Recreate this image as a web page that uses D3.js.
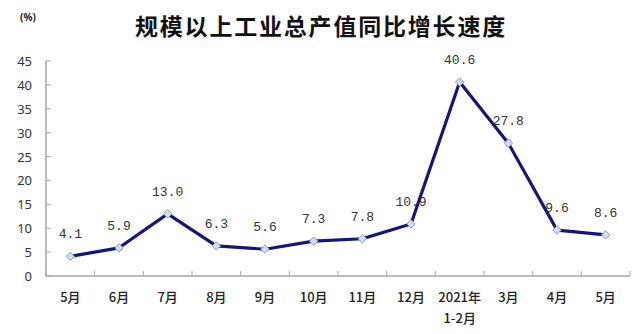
<!DOCTYPE html>
<html lang="zh">
<head>
<meta charset="UTF-8">
<title>规模以上工业总产值同比增长速度</title>
<script src="https://d3js.org/d3.v7.min.js"></script>
<style>
  body { margin: 0; background: #fff; }
  .tickLabel { font-family: "Noto Sans", "Liberation Sans", sans-serif; font-size: 13px; fill: #333; }
  .catLabel { font-family: "Noto Sans CJK SC", sans-serif; font-size: 13px; fill: #222; font-weight: 500; }
  .valLabel { font-family: "Liberation Mono", monospace; font-size: 13px; fill: #333; }
</style>
</head>
<body>
<svg id="chart" width="640" height="334"></svg>
<script>
  // data
  const months = ["5月", "6月", "7月", "8月", "9月", "10月", "11月", "12月", "2021年|1-2月", "3月", "4月", "5月"];
  const growth = [4.1, 5.9, 13.0, 6.3, 5.6, 7.3, 7.8, 10.9, 40.6, 27.8, 9.6, 8.6];
  const yTicks = [0, 5, 10, 15, 20, 25, 30, 35, 40, 45];

  const svg = d3.select("#chart");
  const margin = { top: 61, left: 46, right: 10, bottom: 58 };
  const plotW = 630 - margin.left;
  const plotH = 276 - margin.top;
  const g = svg.append("g").attr("transform", "translate(" + margin.left + "," + margin.top + ")");

  const x = d3.scaleBand().domain(d3.range(months.length)).range([0, plotW]);
  const y = d3.scaleLinear().domain([0, 45]).range([plotH, 0]);

  // title
  svg.append("text")
    .attr("x", 321).attr("y", 35)
    .attr("text-anchor", "middle")
    .style("font-family", "'Noto Sans CJK SC', sans-serif")
    .style("font-size", "23px").style("font-weight", "bold").style("fill", "#111")
    .style("letter-spacing", "1.8px")
    .text("规模以上工业总产值同比增长速度");

  svg.append("text")
    .attr("x", 28).attr("y", 21)
    .attr("text-anchor", "middle")
    .style("font-family", "'Noto Sans', sans-serif")
    .style("font-size", "10px").style("font-weight", "bold").style("fill", "#222")
    .text("(%)");

  // y axis
  g.append("line").attr("x1", 0).attr("x2", 0).attr("y1", 0).attr("y2", plotH)
    .attr("stroke", "#a6a6a6").attr("stroke-width", 1.5);
  g.selectAll(".ytick").data(yTicks).join("line")
    .attr("x1", 0).attr("x2", 5)
    .attr("y1", d => y(d)).attr("y2", d => y(d))
    .attr("stroke", "#a6a6a6").attr("stroke-width", 1);
  g.selectAll(".ylab").data(yTicks).join("text")
    .attr("class", "tickLabel")
    .attr("x", -14).attr("y", d => y(d) + 5)
    .attr("text-anchor", "end")
    .text(d => d);

  // x axis
  g.append("line").attr("x1", 0).attr("x2", plotW).attr("y1", plotH).attr("y2", plotH)
    .attr("stroke", "#a6a6a6").attr("stroke-width", 1.5);
  g.selectAll(".xtick").data(d3.range(months.length + 1)).join("line")
    .attr("x1", d => d * x.step()).attr("x2", d => d * x.step())
    .attr("y1", plotH).attr("y2", plotH - 5)
    .attr("stroke", "#a6a6a6").attr("stroke-width", 1);
  const cat = g.selectAll(".xlab").data(months).join("text")
    .attr("class", "catLabel")
    .attr("text-anchor", "middle")
    .attr("transform", (d, i) => "translate(" + (x(i) + x.bandwidth() / 2) + "," + (plotH + 26) + ")");
  cat.selectAll("tspan").data(d => d.split("|")).join("tspan")
    .attr("x", 0).attr("dy", (d, i) => i === 0 ? 0 : 21)
    .text(d => d);

  // line
  const line = d3.line()
    .x((d, i) => x(i) + x.bandwidth() / 2)
    .y(d => y(d));
  g.append("path").datum(growth)
    .attr("d", line)
    .attr("fill", "none")
    .attr("stroke", "#15157a")
    .attr("stroke-width", 3.2)
    .attr("stroke-linejoin", "round");

  // diamond markers
  g.selectAll(".marker").data(growth).join("path")
    .attr("d", d3.symbol().type(d3.symbolDiamond2).size(45))
    .attr("transform", (d, i) => "translate(" + (x(i) + x.bandwidth() / 2) + "," + y(d) + ")")
    .attr("fill", "#d3dcf2")
    .attr("stroke", "#8f9cc4")
    .attr("stroke-width", 1);

  // value labels
  g.selectAll(".val").data(growth).join("text")
    .attr("class", "valLabel")
    .attr("text-anchor", "middle")
    .attr("x", (d, i) => x(i) + x.bandwidth() / 2)
    .attr("y", d => y(d) - 18)
    .text(d => d.toFixed(1));
</script>
</body>
</html>
